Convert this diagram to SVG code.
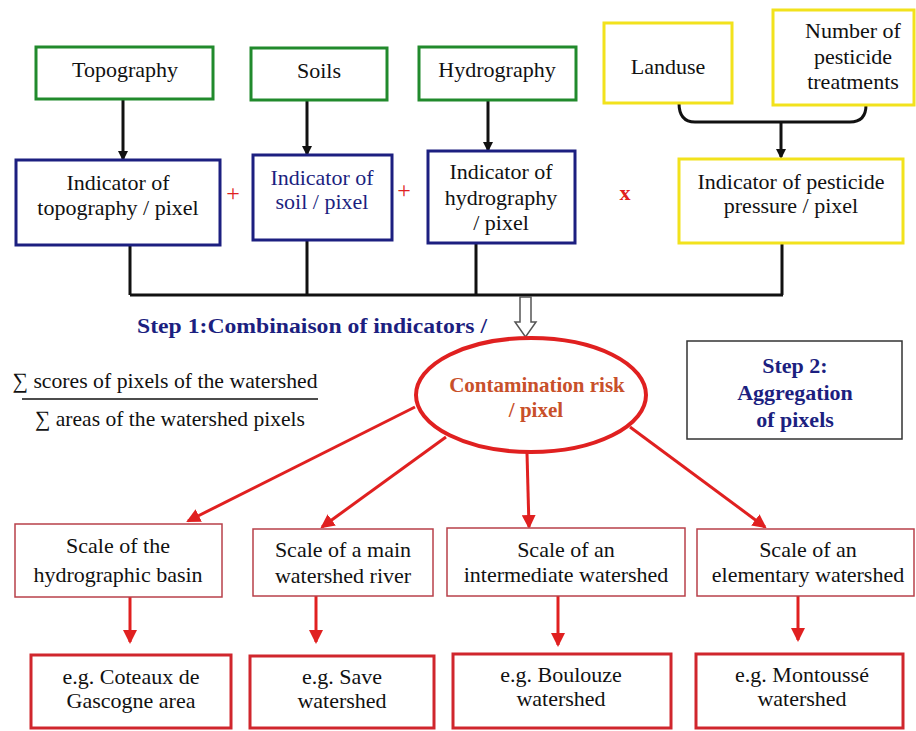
<svg xmlns="http://www.w3.org/2000/svg" width="916" height="731" viewBox="0 0 916 731">
<style>
text{font-family:'Liberation Serif','DejaVu Serif',serif;text-anchor:middle;font-size:22px;fill:#111}
.g{fill:#fff;stroke:#218a2c;stroke-width:3}
.b{fill:#fff;stroke:#1c1f80;stroke-width:3}
.y{fill:#fff;stroke:#f2e21c;stroke-width:3}
.rs{fill:#fff;stroke:#b8404a;stroke-width:1.5}
.rb{fill:#fff;stroke:#d0262d;stroke-width:3}
.bk{fill:none;stroke:#111;stroke-width:3}
.rl{fill:none;stroke:#e02020;stroke-width:3}
.bold{font-weight:bold}
.nv{fill:#1c1f80}
.red{fill:#e02020}
.op{font-size:24px}
.st{font-size:20px}
.rk{fill:#c8502a;font-weight:bold;font-size:21px}
.s2{font-size:22px}
</style>
<defs>
<marker id="ab" markerWidth="10" markerHeight="10" refX="8" refY="5" orient="auto" markerUnits="userSpaceOnUse"><path d="M0,0 L10,5 L0,10 Z" fill="#111"/></marker>
<marker id="ar" markerWidth="14" markerHeight="14" refX="12" refY="7" orient="auto" markerUnits="userSpaceOnUse"><path d="M0,0 L14,7 L0,14 Z" fill="#e02020"/></marker>
</defs>
<rect width="916" height="731" fill="#fff"/>

<g id="connectors">
<line class="bk" x1="123" y1="99" x2="123" y2="159" marker-end="url(#ab)"/>
<line class="bk" x1="307" y1="100" x2="307" y2="154" marker-end="url(#ab)"/>
<line class="bk" x1="488" y1="100" x2="488" y2="150" marker-end="url(#ab)"/>
<path class="bk" d="M679,103 Q679,122 695,122 L850,122 Q866,122 866,105"/>
<line class="bk" x1="781" y1="122" x2="781" y2="157" marker-end="url(#ab)"/>
<path class="bk" d="M130,246 V295 M307,240 V295 M476,243 V295 M782,243 V295 M130,295 H783"/>
<path d="M520,297 H531 V322 H536 L525.5,337 L515,322 H520 Z" fill="#fff" stroke="#555" stroke-width="1.5"/>
<line class="rl" x1="415" y1="407" x2="188" y2="521" marker-end="url(#ar)"/>
<line class="rl" x1="446" y1="437" x2="322" y2="527" marker-end="url(#ar)"/>
<line class="rl" x1="527" y1="453" x2="529" y2="527" marker-end="url(#ar)"/>
<line class="rl" x1="630" y1="427" x2="765" y2="527" marker-end="url(#ar)"/>
<line class="rl" x1="130" y1="597" x2="130" y2="642" marker-end="url(#ar)"/>
<line class="rl" x1="316" y1="596" x2="316" y2="642" marker-end="url(#ar)"/>
<line class="rl" x1="558" y1="596" x2="558" y2="645" marker-end="url(#ar)"/>
<line class="rl" x1="798" y1="596" x2="798" y2="640" marker-end="url(#ar)"/>
</g>

<g id="topography"><rect class="g" x="36" y="47" width="177" height="52"/><text x="125" y="77">Topography</text></g>
<g id="soils"><rect class="g" x="251" y="48" width="136" height="52"/><text x="319" y="78">Soils</text></g>
<g id="hydrography"><rect class="g" x="419" y="47" width="157" height="53"/><text x="497" y="77">Hydrography</text></g>
<g id="landuse"><rect class="y" x="604" y="23" width="128" height="80"/><text x="668" y="74">Landuse</text></g>
<g id="treatments"><rect class="y" x="773" y="10" width="141" height="95"/><text x="853" y="38">Number of</text><text x="853" y="64">pesticide</text><text x="853" y="89">treatments</text></g>

<g id="ind-topo"><rect class="b" x="16" y="160" width="204" height="85"/><text x="118" y="190">Indicator of</text><text x="118" y="215">topography / pixel</text></g>
<g id="ind-soil"><rect class="b" x="253" y="155" width="139" height="85"/><text class="nv" x="322" y="185">Indicator of</text><text class="nv" x="322" y="209">soil / pixel</text></g>
<g id="ind-hydro"><rect class="b" x="428" y="151" width="147" height="92"/><text x="501" y="179">Indicator of</text><text x="501" y="205">hydrography</text><text x="501" y="230">/ pixel</text></g>
<g id="ind-pest"><rect class="y" x="679" y="159" width="224" height="84"/><text x="791" y="189">Indicator of pesticide</text><text x="791" y="213">pressure / pixel</text></g>

<g id="operators">
<text class="red op" x="233" y="201">+</text>
<text class="red op" x="404" y="198">+</text>
<text class="red bold" x="625" y="200">x</text>
</g>

<g id="step1"><text class="nv bold st" x="312" y="333" textLength="350" lengthAdjust="spacingAndGlyphs">Step 1:Combinaison of indicators /</text></g>

<g id="formula">
<text x="165" y="388" textLength="305" lengthAdjust="spacingAndGlyphs">∑ scores of pixels of the watershed</text>
<line x1="22" y1="399" x2="318" y2="399" stroke="#111" stroke-width="1.5"/>
<text x="170" y="426" textLength="270" lengthAdjust="spacingAndGlyphs">∑ areas of the watershed pixels</text>
</g>

<g id="risk"><ellipse cx="531" cy="395" rx="115" ry="57" fill="#fff" stroke="#e02020" stroke-width="4"/><text class="rk" x="537" y="392">Contamination risk</text><text class="rk" x="536" y="417">/ pixel</text></g>

<g id="step2"><rect x="687" y="341" width="215" height="98" fill="#fff" stroke="#333" stroke-width="1.5"/><text class="nv bold s2" x="795" y="373">Step 2:</text><text class="nv bold s2" x="795" y="400">Aggregation</text><text class="nv bold s2" x="795" y="427">of pixels</text></g>

<g id="scale1"><rect class="rs" x="15" y="524" width="207" height="73"/><text x="118" y="553">Scale of the</text><text x="118" y="582">hydrographic basin</text></g>
<g id="scale2"><rect class="rs" x="253" y="529" width="180" height="67"/><text x="343" y="557">Scale of a main</text><text x="343" y="583">watershed river</text></g>
<g id="scale3"><rect class="rs" x="447" y="528" width="238" height="68"/><text x="566" y="557">Scale of an</text><text x="566" y="582">intermediate watershed</text></g>
<g id="scale4"><rect class="rs" x="697" y="529" width="217" height="67"/><text x="808" y="557">Scale of an</text><text x="808" y="582">elementary watershed</text></g>

<g id="eg1"><rect class="rb" x="31" y="655" width="200" height="73"/><text x="131" y="684">e.g. Coteaux de</text><text x="131" y="708">Gascogne area</text></g>
<g id="eg2"><rect class="rb" x="250" y="656" width="184" height="72"/><text x="342" y="684">e.g. Save</text><text x="342" y="708">watershed</text></g>
<g id="eg3"><rect class="rb" x="453" y="654" width="218" height="74"/><text x="561" y="682">e.g. Boulouze</text><text x="561" y="706">watershed</text></g>
<g id="eg4"><rect class="rb" x="696" y="654" width="207" height="74"/><text x="802" y="682">e.g. Montoussé</text><text x="802" y="706">watershed</text></g>
</svg>
